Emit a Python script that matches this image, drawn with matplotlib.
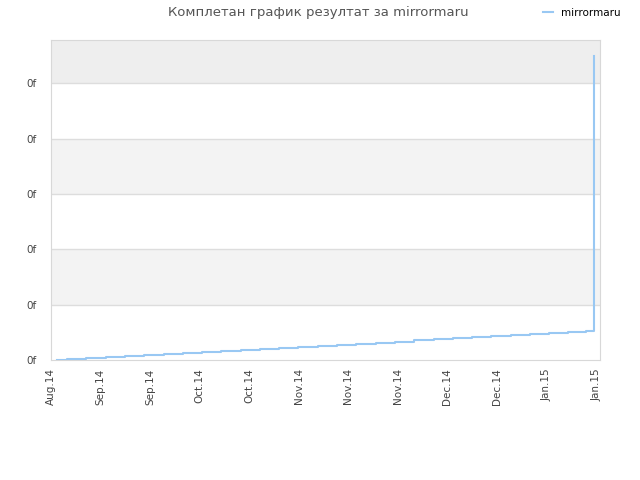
import matplotlib
matplotlib.use("Agg")
import matplotlib.pyplot as plt

# Data (x in days since Aug.14, y in grid units)
step_days = [1.7, 4.5, 10.0, 15.4, 20.9, 26.3, 31.8, 37.2, 42.7, 48.1, 53.6, 59.0,
             64.5, 69.9, 75.4, 80.8, 86.3, 91.7, 97.2, 102.6, 108.1, 113.5, 119.0,
             124.4, 129.9, 135.3, 140.8, 146.2, 151.2, 153.4, 153.4]
step_vals = [0.000, 0.019, 0.037, 0.056, 0.074, 0.093, 0.111, 0.130, 0.149, 0.167,
             0.186, 0.204, 0.223, 0.241, 0.260, 0.279, 0.297, 0.316, 0.334, 0.353,
             0.371, 0.390, 0.409, 0.427, 0.446, 0.464, 0.483, 0.501, 0.520, 0.520, 5.50]
tick_days = [0, 14, 28, 42, 56, 70, 84, 98, 112, 126, 140, 154]
tick_labels = ["Aug.14", "Sep.14", "Sep.14", "Oct.14", "Oct.14", "Nov.14", "Nov.14",
               "Nov.14", "Dec.14", "Dec.14", "Jan.15", "Jan.15"]
ytick_vals = [0, 1, 2, 3, 4, 5]
ytick_labels = ["0f", "0f", "0f", "0f", "0f", "0f"]

fig = plt.figure(figsize=(6.4, 4.8), dpi=100)
ax = fig.add_axes([51/640, 120/480, 549/640, 320/480])

ax.set_xlim(0, 155.1)
ax.set_ylim(0, 5.78)

# alternating bands
ax.axhspan(1, 2, color="#f3f3f3", zorder=0, lw=0)
ax.axhspan(3, 4, color="#f3f3f3", zorder=0, lw=0)
ax.axhspan(5, 5.78, color="#eeeeee", zorder=0, lw=0)
for yv in ytick_vals[1:]:
    ax.axhline(yv, color="#dddddd", lw=1, zorder=1)

ax.step(step_days, step_vals, where="post", color="#99c8f3", lw=1.5, zorder=3,
        label="mirrormaru")

ax.set_xticks(tick_days)
ax.set_xticklabels(tick_labels, rotation=90, fontsize=7.5, color="#444444")
ax.set_yticks(ytick_vals)
ax.set_yticklabels(ytick_labels, fontsize=7.5, color="#444444")
ax.tick_params(axis="x", length=0, pad=6)
ax.tick_params(axis="y", length=0, pad=10)
for s in ax.spines.values():
    s.set_color("#d8d8d8")

fig.text(0.497, 0.973, "Комплетан график резултат за mirrormaru", ha="center", va="center",
         fontsize=9.5, color="#555555")
fig.legend(loc="upper right", bbox_to_anchor=(0.985, 1.003), frameon=False, fontsize=7.5,
           handlelength=1.0, handletextpad=0.8)

fig.savefig("out.png", dpi=100)
